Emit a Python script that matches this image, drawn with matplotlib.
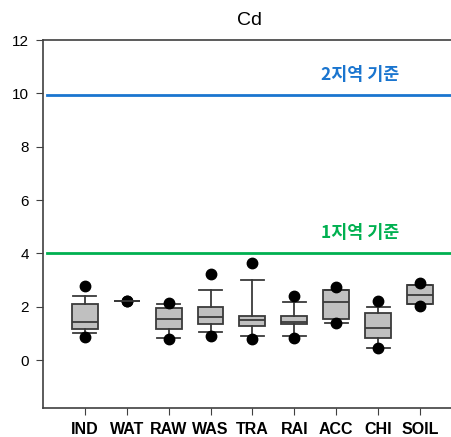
import matplotlib
matplotlib.use("Agg")
import matplotlib.pyplot as plt

plt.rcParams['font.family'] = ['Noto Sans CJK KR', 'DejaVu Sans']

categories = ["IND", "WAT", "RAW", "WAS", "TRA", "RAI", "ACC", "CHI", "SOIL"]
# box stats: whisker low, q1, median, q3, whisker high
whislo = [1.00, 2.20, 0.84, 1.05, 0.90, 0.90, 1.37, 0.46, 2.09]
q1     = [1.16, 2.20, 1.16, 1.34, 1.29, 1.34, 1.53, 0.84, 2.09]
med    = [1.41, 2.20, 1.53, 1.63, 1.50, 1.43, 2.19, 1.21, 2.45]
q3     = [2.09, 2.20, 1.94, 1.98, 1.66, 1.66, 2.61, 1.75, 2.81]
whishi = [2.41, 2.20, 2.09, 2.64, 3.01, 2.19, 2.61, 1.99, 2.81]
out_lo = [0.85, 2.20, 0.78, 0.90, 0.80, 0.81, 1.40, 0.44, 2.03]
out_hi = [2.78, 2.20, 2.15, 3.23, 3.65, 2.40, 2.72, 2.21, 2.90]

limit2 = 9.95
limit1 = 4.02
limit2_label = "2지역 기준"
limit1_label = "1지역 기준"

fig = plt.figure(figsize=(4.51, 4.37), dpi=100)
ax = fig.add_axes([43/451, 1 - 408/437, 1 - 43/451 + 0.01, (408 - 40)/437])

stats = []
for i, c in enumerate(categories):
    stats.append(dict(label=c, whislo=whislo[i], q1=q1[i], med=med[i], q3=q3[i],
                      whishi=whishi[i], fliers=[out_lo[i], out_hi[i]]))

pos = list(range(1, len(categories) + 1))
ax.bxp(stats, positions=pos, widths=0.62, patch_artist=True,
       boxprops=dict(facecolor="#c0c0c0", edgecolor="#3a3a3a", linewidth=1.3),
       medianprops=dict(color="#3a3a3a", linewidth=1.3),
       whiskerprops=dict(color="#3a3a3a", linewidth=1.3),
       capprops=dict(color="#3a3a3a", linewidth=1.3),
       capwidths=0.55,
       flierprops=dict(marker="o", markerfacecolor="black", markeredgecolor="black",
                       markersize=7.5))

ax.axhline(limit2, xmin=0.01, color="#1a75cf", linewidth=2)
ax.axhline(limit1, xmin=0.01, color="#00b050", linewidth=2)
ax.text(7.58, limit2 + 0.75, limit2_label, color="#1a75cf", fontsize=12.5,
        fontweight="bold", ha="center", va="center")
ax.text(7.58, limit1 + 0.75, limit1_label, color="#00b050", fontsize=12.5,
        fontweight="bold", ha="center", va="center")

ax.set_xlim(0, 9.85)
ax.set_ylim(-1.8, 12)
ax.set_yticks([0, 2, 4, 6, 8, 10, 12])
ax.set_xticks(pos)
ax.set_xticklabels(categories, fontweight="bold", fontsize=11.5,
                   family=['Liberation Sans', 'DejaVu Sans'])
for lab in ax.get_yticklabels():
    lab.set_fontsize(11)
    lab.set_family(['Liberation Sans', 'DejaVu Sans'])
ax.tick_params(axis='both', direction='out', length=5, color="#404040")
ax.tick_params(axis='x', pad=5)
ax.tick_params(axis='y', pad=5)
for s in ["left", "bottom", "top"]:
    ax.spines[s].set_color("#404040")
    ax.spines[s].set_linewidth(1.2)
ax.spines["right"].set_visible(False)
ax.set_title("Cd", fontsize=14, pad=11, family=['Liberation Sans', 'DejaVu Sans'])

fig.savefig("out.png", dpi=100)
